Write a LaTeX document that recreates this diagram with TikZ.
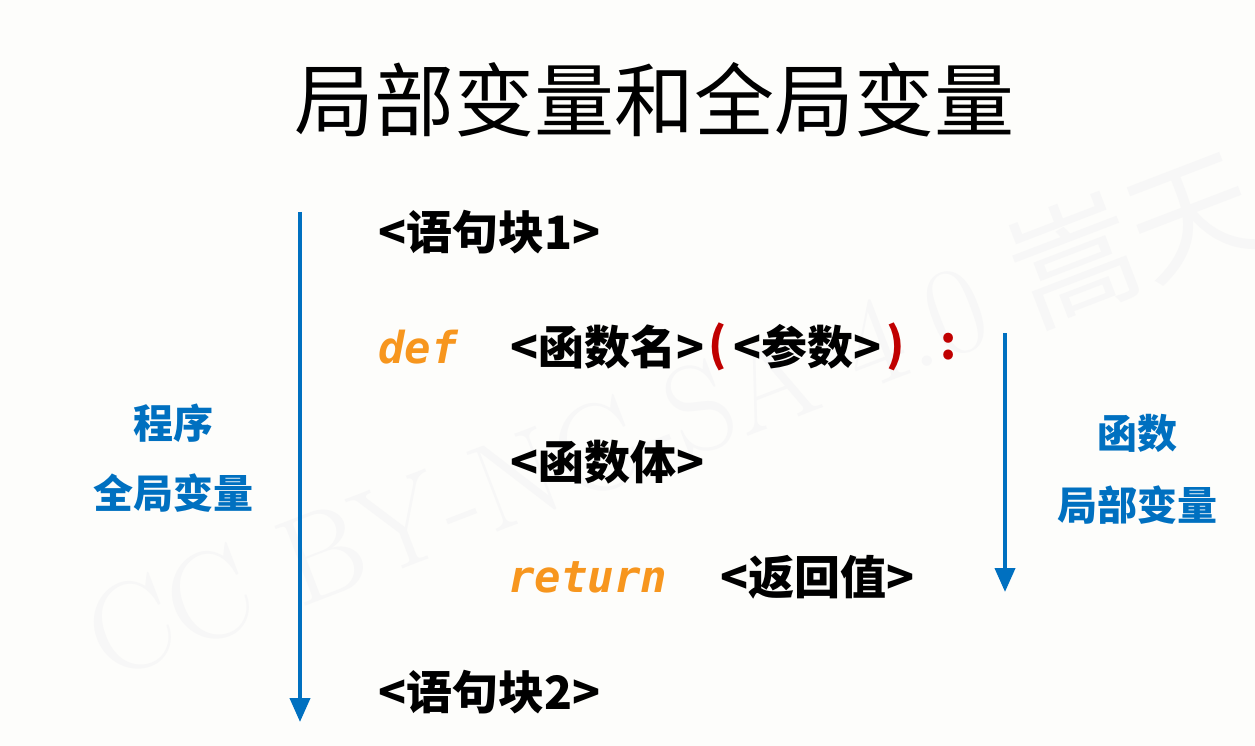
\documentclass[tikz,border=0pt]{standalone}
\usepackage{fontspec}
\newfontfamily\cjk{Noto Sans CJK SC}
\newfontfamily\mono{DejaVu Sans Mono}
\usetikzlibrary{arrows.meta}
\definecolor{bluelab}{HTML}{0070C0}
\definecolor{kworange}{HTML}{F7961E}
\definecolor{redpar}{HTML}{C00000}
\definecolor{bgc}{HTML}{FDFDFB}
\tikzset{
  titletext/.style={font=\cjk\fontsize{80}{90}\selectfont, inner sep=0pt},
  codetext/.style={font=\cjk\bfseries\fontsize{46}{54}\selectfont, inner sep=0pt, anchor=west},
  kwtext/.style={font=\mono\bfseries\itshape\fontsize{44}{52}\selectfont, text=kworange, inner sep=0pt, anchor=west},
  redtext/.style={codetext, text=redpar},
  labeltext/.style={font=\cjk\bfseries\fontsize{40}{48}\selectfont, text=bluelab, inner sep=0pt},
  flowarrow/.style={draw=bluelab, line width=4pt, -{Triangle[width=20pt,length=24pt]}},
  watermark/.style={font=\fontsize{125}{135}\selectfont, text=black!3, inner sep=0pt, rotate=21}
}
\begin{document}
\begin{tikzpicture}[x=1pt,y=-1pt]
\fill[bgc] (0,0) rectangle (1255,746);
\useasboundingbox (0,0) rectangle (1255,746);
\node[watermark] (wm) at (670,415) {CC BY-NC-SA 4.0 {\cjk 嵩天}};
\node[titletext] (title) at (654,100) {局部变量和全局变量};
\node[codetext] (blk1) at (378,232) {<语句块1>};
\node[kwtext] (def) at (378,347) {def};
\node[codetext] (fname) at (510,347) {<函数名>};
\node[redtext] (lpar) at (708,347) {(};
\node[codetext] (param) at (733,347) {<参数>};
\node[redtext] (rpar) at (886,347) {)};
\node[redtext] (colon) at (940,347) {:};
\node[codetext] (body) at (510,462) {<函数体>};
\node[kwtext] (ret) at (508,577) {return};
\node[codetext] (retval) at (720,577) {<返回值>};
\node[codetext] (blk2) at (378,692) {<语句块2>};
\node[labeltext] (prog) at (173,423) {程序};
\node[labeltext] (glob) at (173,493) {全局变量};
\node[labeltext] (func) at (1137,433) {函数};
\node[labeltext] (loc) at (1137,505) {局部变量};
\coordinate (la) at (300,212);
\coordinate (lb) at (300,722);
\coordinate (ra) at (1005,333);
\coordinate (rb) at (1005,592);
\draw[flowarrow] (la) -- (lb);
\draw[flowarrow] (ra) -- (rb);
\end{tikzpicture}
\end{document}
